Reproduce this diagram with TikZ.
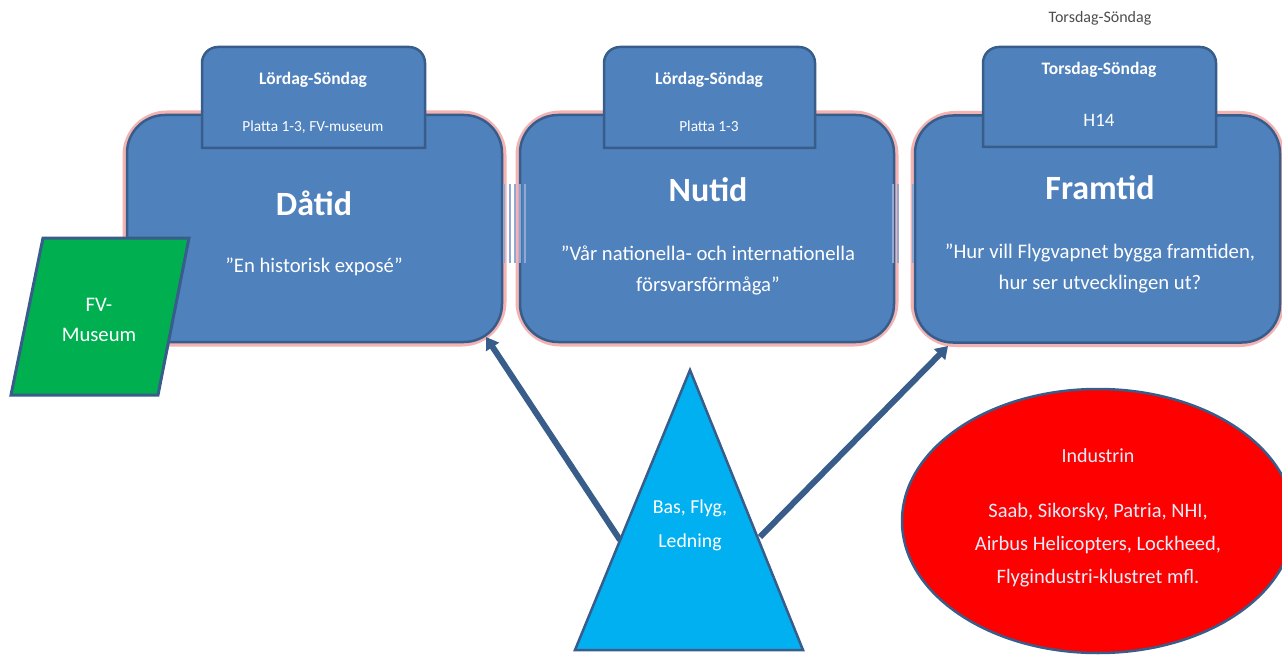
\documentclass[tikz,border=0pt]{standalone}
\usepackage{fontspec}
\setmainfont{Carlito}
\usetikzlibrary{shapes.geometric,arrows.meta}
\definecolor{boxblue}{HTML}{4F81BD}
\definecolor{edgeblue}{HTML}{385D8A}
\definecolor{glow}{HTML}{F0A0A0}
\definecolor{fvgreen}{HTML}{00B050}
\definecolor{triblue}{HTML}{00B0F0}
\definecolor{pipe}{HTML}{8FA9D3}
\definecolor{indtext}{HTML}{E6EEFA}

\tikzset{
 tidbox/.style={rectangle, rounded corners=38pt, draw=edgeblue, fill=boxblue, line width=2.5pt,
   inner sep=0pt, minimum height=227pt},
 glowbox/.style={rectangle, rounded corners=40pt, draw=glow, line width=9pt, opacity=.8,
   inner sep=0pt, minimum height=227pt},
 tabshape/.style={draw=edgeblue, fill=boxblue, line width=2.5pt},
 dagtxt/.style={text=white, font=\fontsize{17.5}{20}\selectfont\bfseries},
 platstxt/.style={text=white, font=\fontsize{15.4}{18}\selectfont},
 titel/.style={text=white, font=\fontsize{34}{38}\selectfont\bfseries},
 citat/.style={text=white, align=center, font=\fontsize{20.7}{31}\selectfont},
 pil/.style={draw=edgeblue, line width=6pt, -{Triangle[length=12pt,width=15pt]}},
 pipelines/.style={draw=pipe, line width=1.2pt}
}

\begin{document}
\begin{tikzpicture}[x=1pt, y=-1pt]
\useasboundingbox (0,0) rectangle (1282,655);

\node[text=black!70, font=\fontsize{16}{18}\selectfont] (topdag) at (1100,18) {Torsdag-Söndag};

% Dåtid
\node[glowbox, minimum width=375pt] (datidglow) at (314.5,228.5) {};
\node[tidbox, minimum width=375pt] (datid) at (314.5,228.5) {};
\filldraw[tabshape] (202,148) -- (202,63) arc[start angle=180, end angle=270, radius=16]
 -- (409,47) arc[start angle=270, end angle=360, radius=16] -- (425,148) -- cycle;
\node[dagtxt] (dag1) at (313,80) {Lördag-Söndag};
\node[platstxt] (plats1) at (313,127) {Platta 1-3, FV-museum};
\node[titel] (t1) at (314,203) {Dåtid};
\node[citat] (c1) at (314,267) {”En historisk exposé”};

% Nutid
\node[glowbox, minimum width=374pt] (nutidglow) at (707,228.5) {};
\node[tidbox, minimum width=374pt] (nutid) at (707,228.5) {};
\filldraw[tabshape] (604,148) -- (604,63) arc[start angle=180, end angle=270, radius=16]
 -- (799,47) arc[start angle=270, end angle=360, radius=16] -- (815,148) -- cycle;
\node[dagtxt] (dag2) at (709,80) {Lördag-Söndag};
\node[platstxt] (plats2) at (709,126) {Platta 1-3};
\node[titel] (t2) at (708,190) {Nutid};
\node[citat] (c2) at (708,270) {”Vår nationella- och internationella\\försvarsförmåga”};

% Framtid
\node[glowbox, minimum width=365pt] (framtidglow) at (1097.5,229) {};
\node[tidbox, minimum width=365pt] (framtid) at (1097.5,229) {};
\filldraw[tabshape] (983,147) -- (983,63) arc[start angle=180, end angle=270, radius=16]
 -- (1200,47) arc[start angle=270, end angle=360, radius=16] -- (1216,147) -- cycle;
\node[dagtxt] (dag3) at (1099,70) {Torsdag-Söndag};
\node[text=white, font=\fontsize{19}{22}\selectfont] (plats3) at (1099,120) {H14};
\node[titel] (t3) at (1100,188) {Framtid};
\node[citat] (c3) at (1100,268) {”Hur vill Flygvapnet bygga framtiden,\\hur ser utvecklingen ut?};

% pipes
\foreach \px in {504,510,515,520,525} \draw[pipelines] (\px,184) -- (\px,263);
\foreach \px in {893,898,913} \draw[pipelines] (\px,184) -- (\px,263);

% FV-Museum
\coordinate (fvtl) at (43,238);
\coordinate (fvtr) at (189,238);
\coordinate (fvbr) at (158,395);
\coordinate (fvbl) at (11,395);
\filldraw[draw=edgeblue, fill=fvgreen, line width=3pt] (fvtl) -- (fvtr) -- (fvbr) -- (fvbl) -- cycle;
\node[text=white, align=center, font=\fontsize{20.7}{30}\selectfont] (fv) at (99,320) {FV-\\Museum};

% triangel
\coordinate (apex) at (690,370);
\coordinate (bl) at (575,650);
\coordinate (br) at (803,650);
\filldraw[draw=edgeblue, fill=triblue, line width=2.5pt] (apex) -- (br) -- (bl) -- cycle;
\node[text=white, align=center, font=\fontsize{19.8}{34}\selectfont] (bfl) at (690,525) {Bas, Flyg,\\Ledning};

\coordinate (p1) at (620,540);
\coordinate (p2) at (760,537);
\coordinate (d1) at (486,337);
\coordinate (f1) at (948,346);
\draw[pil] (p1) -- (d1);
\draw[pil] (p2) -- (f1);

% industrin
\node[ellipse, fill=red, draw=edgeblue, line width=2.5pt, minimum width=392pt, minimum height=264pt] (ind) at (1098,521) {};
\node[text=indtext, font=\fontsize{20}{22}\selectfont] (indrub) at (1098,456) {Industrin};
\node[text=indtext, align=center, font=\fontsize{20.5}{33}\selectfont] (indlist) at (1098,545)
 {Saab, Sikorsky, Patria, NHI,\\Airbus Helicopters,\ Lockheed,\\Flygindustri-klustret mfl.};
\end{tikzpicture}
\end{document}
